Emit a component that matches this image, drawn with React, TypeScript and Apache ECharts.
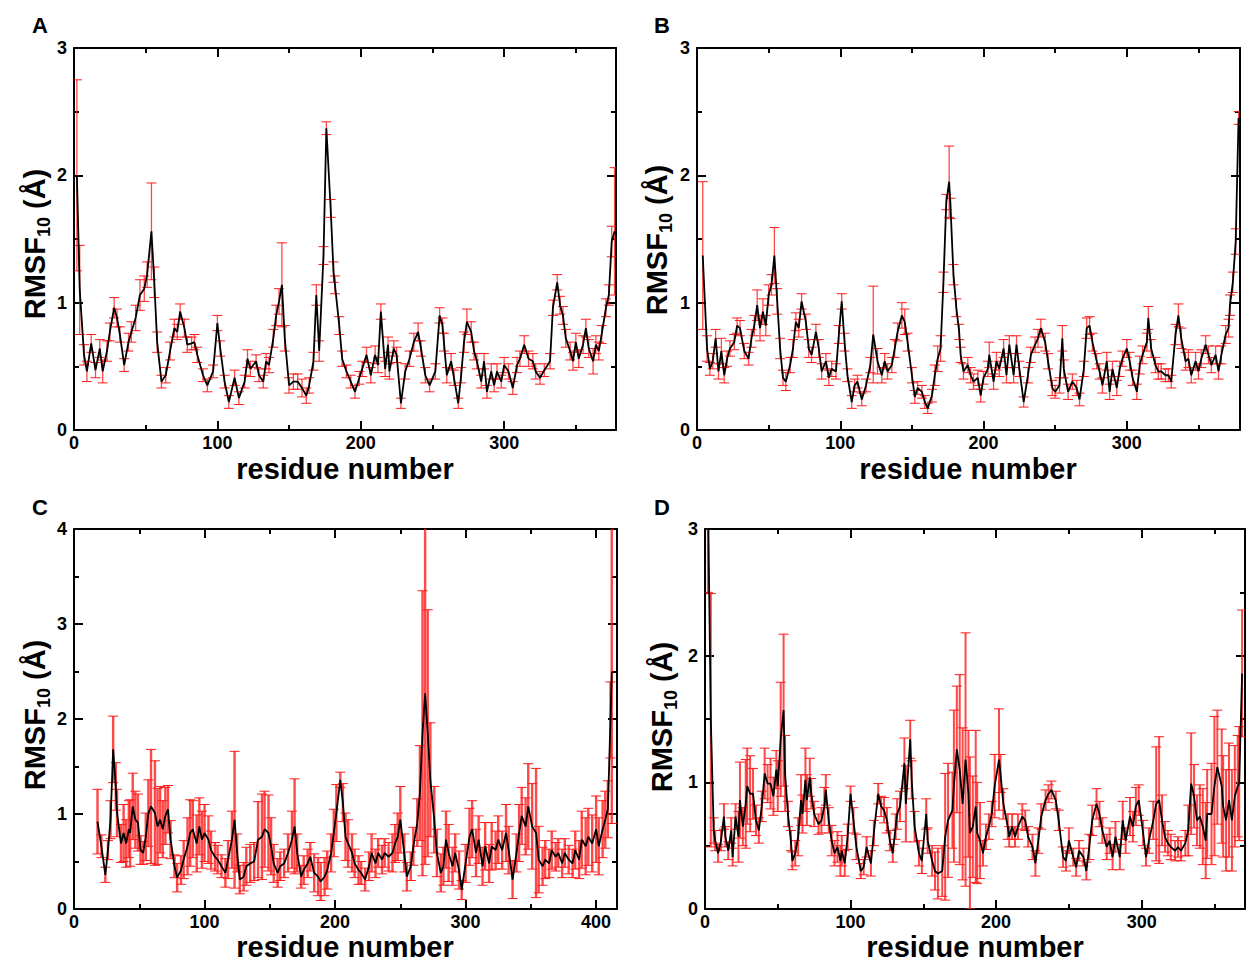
import React, { useEffect, useRef } from 'react';
import * as echarts from 'echarts';

// [residue, RMSF10 (Å), error half-width]
const panelA: number[][] = [
  [2,2.0,0.75],[4,1.1,0.35],[7,0.59,0.08],[9,0.46,0.08],[12,0.68,0.07],[15,0.47,0.06],[18,0.64,0.07],[20,0.46,0.09],
  [23,0.62,0.08],[25,0.77,0.07],[28,0.96,0.08],[30,0.88,0.07],[32,0.75,0.06],[35,0.51,0.05],[38,0.69,0.07],[40,0.77,0.08],
  [43,0.88,0.1],[46,1.06,0.12],[49,1.11,0.1],[51,1.22,0.1],[54,1.56,0.38],[56,1.16,0.12],[58,0.69,0.08],[61,0.38,0.05],
  [64,0.43,0.06],[67,0.62,0.07],[70,0.80,0.07],[72,0.77,0.06],[74,0.93,0.06],[77,0.80,0.07],[79,0.67,0.06],[82,0.68,0.05],
  [84,0.69,0.06],[86,0.59,0.06],[90,0.43,0.05],[93,0.35,0.05],[97,0.46,0.05],[100,0.84,0.06],[102,0.64,0.06],[105,0.38,0.05],
  [108,0.22,0.05],[112,0.41,0.06],[115,0.25,0.05],[119,0.38,0.05],[121,0.56,0.07],[123,0.48,0.06],[127,0.54,0.05],[129,0.43,0.05],
  [132,0.38,0.05],[134,0.54,0.06],[136,0.51,0.06],[139,0.72,0.07],[141,0.90,0.08],[143,1.01,0.1],[145,1.14,0.33],[147,0.72,0.1],
  [150,0.35,0.06],[153,0.38,0.06],[156,0.38,0.06],[159,0.33,0.07],[162,0.27,0.06],[164,0.35,0.06],[167,0.54,0.07],[169,1.06,0.08],
  [171,0.62,0.08],[174,1.37,0.07],[176,2.37,0.05],[179,1.74,0.07],[181,1.24,0.08],[182,1.14,0.07],[185,0.82,0.07],[187,0.56,0.06],
  [190,0.46,0.05],[193,0.38,0.05],[196,0.30,0.05],[199,0.41,0.05],[201,0.48,0.06],[204,0.59,0.06],[207,0.43,0.06],[210,0.59,0.07],
  [212,0.51,0.06],[214,0.93,0.06],[217,0.48,0.06],[219,0.67,0.06],[220,0.46,0.06],[223,0.64,0.06],[225,0.59,0.06],[228,0.21,0.04],
  [231,0.46,0.06],[234,0.56,0.06],[237,0.69,0.07],[240,0.77,0.07],[242,0.64,0.06],[245,0.43,0.06],[248,0.35,0.05],[252,0.46,0.06],
  [255,0.90,0.06],[257,0.82,0.06],[258,0.69,0.07],[260,0.43,0.06],[263,0.54,0.06],[265,0.41,0.06],[268,0.21,0.04],[270,0.43,0.06],
  [272,0.69,0.08],[274,0.85,0.1],[277,0.77,0.08],[279,0.62,0.07],[281,0.54,0.06],[284,0.38,0.05],[286,0.54,0.06],[288,0.30,0.05],
  [291,0.46,0.06],[293,0.35,0.05],[295,0.46,0.06],[298,0.38,0.05],[300,0.51,0.06],[303,0.46,0.06],[306,0.33,0.05],[309,0.51,0.06],
  [311,0.56,0.06],[314,0.67,0.07],[317,0.56,0.06],[320,0.54,0.06],[322,0.46,0.06],[325,0.41,0.05],[328,0.47,0.05],[332,0.54,0.06],
  [334,0.96,0.06],[337,1.16,0.06],[339,0.98,0.07],[341,0.90,0.07],[343,0.72,0.07],[346,0.62,0.07],[348,0.54,0.07],[350,0.69,0.07],
  [352,0.56,0.07],[355,0.67,0.07],[357,0.80,0.07],[359,0.64,0.07],[362,0.54,0.1],[364,0.67,0.07],[366,0.62,0.07],[368,0.75,0.07],
  [371,0.96,0.07],[373,1.06,0.08],[375,1.48,0.12],[377,1.56,0.5],
];

const panelB: number[][] = [
  [4,1.37,0.58],[7,0.64,0.1],[9,0.48,0.05],[11,0.54,0.06],[13,0.72,0.07],[15,0.46,0.06],[17,0.62,0.1],[19,0.43,0.06],
  [21,0.56,0.06],[23,0.64,0.06],[26,0.69,0.06],[28,0.82,0.06],[30,0.80,0.06],[33,0.62,0.06],[36,0.56,0.05],[38,0.72,0.07],
  [40,0.82,0.08],[42,0.98,0.12],[44,0.80,0.1],[46,0.93,0.1],[48,0.82,0.08],[50,1.06,0.08],[52,1.14,0.08],[54,1.37,0.22],
  [56,1.01,0.1],[58,0.64,0.08],[60,0.41,0.06],[62,0.38,0.07],[65,0.51,0.06],[67,0.64,0.07],[69,0.85,0.07],[71,0.80,0.07],
  [73,1.01,0.06],[76,0.85,0.06],[78,0.64,0.07],[80,0.59,0.06],[83,0.77,0.06],[85,0.64,0.07],[87,0.46,0.06],[90,0.54,0.06],
  [92,0.41,0.06],[94,0.48,0.06],[97,0.46,0.06],[99,0.75,0.07],[101,1.01,0.06],[103,0.69,0.07],[105,0.43,0.05],[108,0.22,0.05],
  [110,0.35,0.05],[112,0.38,0.05],[115,0.24,0.05],[118,0.35,0.05],[121,0.51,0.06],[123,0.75,0.38],[126,0.54,0.1],[129,0.43,0.06],
  [131,0.54,0.06],[133,0.46,0.06],[136,0.51,0.06],[138,0.64,0.07],[140,0.77,0.07],[143,0.90,0.1],[145,0.85,0.1],[147,0.69,0.07],
  [150,0.43,0.06],[152,0.26,0.05],[154,0.33,0.05],[157,0.30,0.05],[159,0.22,0.05],[161,0.17,0.04],[164,0.27,0.05],[166,0.43,0.08],
  [168,0.56,0.1],[170,0.64,0.1],[172,1.16,0.08],[174,1.79,0.06],[176,1.95,0.28],[177,1.74,0.08],[179,1.22,0.08],[181,0.96,0.07],
  [183,0.77,0.06],[184,0.59,0.06],[186,0.46,0.06],[189,0.51,0.06],[191,0.43,0.06],[193,0.38,0.06],[196,0.41,0.06],[198,0.27,0.05],
  [200,0.41,0.05],[203,0.48,0.06],[204,0.59,0.1],[207,0.38,0.06],[209,0.54,0.07],[211,0.48,0.06],[214,0.64,0.07],[216,0.43,0.06],
  [218,0.67,0.07],[221,0.43,0.06],[223,0.67,0.07],[225,0.48,0.06],[228,0.22,0.04],[231,0.43,0.06],[233,0.59,0.06],[236,0.67,0.06],
  [238,0.72,0.07],[240,0.80,0.07],[243,0.69,0.07],[245,0.54,0.06],[248,0.33,0.06],[250,0.30,0.05],[253,0.35,0.06],[255,0.72,0.1],
  [256,0.48,0.07],[259,0.30,0.06],[262,0.38,0.06],[265,0.33,0.06],[267,0.24,0.05],[270,0.48,0.06],[272,0.80,0.08],[274,0.82,0.07],
  [276,0.69,0.07],[279,0.54,0.06],[281,0.46,0.06],[283,0.35,0.06],[286,0.54,0.07],[288,0.30,0.06],[290,0.48,0.06],[293,0.33,0.06],
  [295,0.48,0.06],[297,0.56,0.06],[300,0.64,0.07],[302,0.54,0.07],[304,0.41,0.06],[307,0.30,0.06],[309,0.51,0.07],[311,0.59,0.07],
  [314,0.69,0.07],[315,0.88,0.09],[317,0.64,0.07],[320,0.51,0.06],[322,0.46,0.06],[324,0.46,0.06],[327,0.43,0.05],[329,0.43,0.05],
  [331,0.38,0.05],[334,0.75,0.08],[336,0.90,0.09],[338,0.72,0.08],[341,0.54,0.07],[343,0.56,0.07],[345,0.43,0.06],[348,0.54,0.07],
  [350,0.46,0.06],[352,0.56,0.07],[355,0.67,0.07],[357,0.59,0.07],[359,0.51,0.06],[362,0.59,0.07],[364,0.46,0.06],[366,0.59,0.07],
  [369,0.75,0.07],[371,0.80,0.07],[372,0.98,0.08],[374,1.16,0.08],[376,1.48,0.1],[378,2.45,0.05],
];

const panelC: number[][] = [
  [18,0.92,0.34],[21,0.66,0.12],[24,0.36,0.08],[26,0.62,0.1],[28,0.94,0.2],[30,1.68,0.35],[32,1.29,0.25],[33,1.01,0.25],
  [36,0.69,0.2],[38,0.80,0.3],[40,0.69,0.25],[42,0.84,0.3],[43,0.80,0.35],[45,1.08,0.35],[47,0.94,0.3],[49,0.91,0.3],
  [51,0.62,0.15],[53,0.59,0.12],[55,0.76,0.25],[57,1.01,0.35],[59,1.08,0.6],[62,1.01,0.55],[64,0.87,0.4],[66,0.94,0.35],
  [68,0.84,0.3],[70,0.98,0.3],[72,1.05,0.25],[74,0.73,0.2],[77,0.45,0.12],[79,0.33,0.15],[82,0.41,0.15],[84,0.52,0.2],
  [87,0.66,0.3],[89,0.80,0.35],[91,0.84,0.3],[94,0.69,0.3],[96,0.87,0.3],[98,0.73,0.3],[100,0.80,0.3],[103,0.73,0.25],
  [105,0.62,0.2],[108,0.55,0.15],[110,0.52,0.15],[113,0.45,0.12],[116,0.38,0.15],[118,0.52,0.2],[121,0.73,0.3],[123,0.94,0.72],
  [125,0.59,0.2],[127,0.31,0.15],[130,0.34,0.15],[132,0.45,0.2],[135,0.48,0.2],[138,0.50,0.2],[141,0.73,0.4],[144,0.76,0.45],
  [146,0.84,0.4],[149,0.80,0.4],[151,0.66,0.3],[153,0.48,0.2],[156,0.38,0.15],[158,0.45,0.15],[161,0.48,0.15],[164,0.59,0.2],
  [167,0.73,0.3],[169,0.87,0.5],[171,0.59,0.2],[174,0.34,0.12],[176,0.41,0.15],[179,0.48,0.15],[181,0.55,0.15],[184,0.38,0.2],
  [187,0.34,0.2],[189,0.29,0.2],[192,0.34,0.2],[194,0.41,0.2],[197,0.59,0.2],[199,0.80,0.25],[201,1.01,0.3],[204,1.36,0.08],
  [206,1.12,0.2],[208,0.76,0.25],[210,0.69,0.25],[213,0.59,0.2],[215,0.48,0.15],[218,0.41,0.15],[220,0.38,0.12],[223,0.31,0.12],
  [226,0.45,0.15],[228,0.59,0.2],[231,0.48,0.15],[233,0.59,0.15],[236,0.52,0.15],[238,0.59,0.15],[241,0.55,0.15],[244,0.59,0.2],
  [246,0.69,0.2],[248,0.76,0.25],[250,0.94,0.35],[253,0.59,0.2],[255,0.34,0.15],[258,0.45,0.15],[260,0.66,0.2],[263,0.91,0.25],
  [265,1.22,0.5],[267,1.85,1.5],[269,2.27,1.8],[271,1.85,1.3],[273,1.36,0.6],[276,0.94,0.35],[278,0.59,0.25],[281,0.38,0.2],
  [283,0.45,0.2],[285,0.73,0.3],[287,0.59,0.3],[290,0.45,0.2],[292,0.59,0.2],[295,0.41,0.2],[297,0.20,0.1],[300,0.48,0.2],
  [303,0.76,0.3],[305,0.84,0.3],[308,0.59,0.25],[310,0.73,0.25],[313,0.45,0.2],[315,0.66,0.25],[318,0.48,0.2],[320,0.66,0.25],
  [323,0.62,0.2],[325,0.73,0.25],[328,0.62,0.2],[331,0.80,0.3],[333,0.62,0.25],[336,0.31,0.2],[339,0.59,0.2],[341,0.80,0.3],
  [343,0.98,0.3],[346,0.87,0.3],[348,1.08,0.45],[351,0.87,0.45],[354,0.80,0.68],[356,0.52,0.35],[359,0.45,0.2],[361,0.52,0.2],
  [364,0.48,0.15],[366,0.62,0.2],[369,0.55,0.15],[371,0.59,0.15],[374,0.48,0.15],[376,0.59,0.15],[379,0.52,0.15],[382,0.48,0.15],
  [384,0.62,0.2],[387,0.52,0.2],[389,0.73,0.3],[392,0.66,0.3],[394,0.76,0.3],[397,0.69,0.3],[400,0.84,0.35],[402,0.66,0.3],
  [405,0.84,0.3],[407,0.94,0.3],[409,1.05,0.3],[411,1.99,0.4],[412,2.5,1.6],
];

const panelD: number[][] = [
  [2,3.3,0.8],[4,1.49,1.0],[6,0.62,0.1],[7,0.54,0.08],[9,0.44,0.07],[11,0.54,0.08],[13,0.73,0.1],[14,0.57,0.08],
  [16,0.46,0.07],[18,0.62,0.1],[19,0.41,0.07],[21,0.73,0.1],[23,0.57,0.2],[24,0.86,0.3],[26,0.65,0.15],[28,0.83,0.35],
  [29,0.97,0.3],[31,0.91,0.3],[33,0.91,0.2],[35,0.70,0.12],[37,0.62,0.1],[39,0.81,0.12],[41,1.07,0.2],[43,0.99,0.15],
  [45,0.99,0.2],[47,0.89,0.15],[49,1.10,0.15],[50,0.97,0.2],[52,1.34,0.45],[54,1.57,0.6],[55,1.07,0.3],[57,0.75,0.1],
  [59,0.54,0.08],[60,0.38,0.07],[62,0.44,0.1],[64,0.57,0.15],[66,0.86,0.2],[67,0.75,0.15],[69,1.02,0.25],[70,0.86,0.2],
  [72,1.04,0.15],[73,0.91,0.12],[75,0.75,0.1],[78,0.67,0.08],[80,0.70,0.1],[82,0.81,0.15],[83,0.94,0.12],[85,0.70,0.1],
  [87,0.54,0.12],[89,0.44,0.1],[91,0.49,0.12],[93,0.38,0.12],[94,0.46,0.12],[96,0.36,0.1],[98,0.57,0.1],[100,0.91,0.06],
  [102,0.70,0.1],[104,0.49,0.1],[107,0.30,0.06],[109,0.33,0.06],[111,0.49,0.08],[114,0.36,0.1],[116,0.60,0.1],[119,0.91,0.08],
  [121,0.81,0.08],[123,0.78,0.1],[125,0.70,0.1],[127,0.54,0.08],[129,0.44,0.07],[131,0.65,0.1],[132,0.75,0.12],[134,0.81,0.12],
  [137,1.15,0.2],[138,0.83,0.3],[141,1.34,0.15],[142,1.02,0.15],[144,0.65,0.12],[147,0.44,0.1],[149,0.38,0.1],[152,0.75,0.12],
  [153,0.54,0.1],[156,0.38,0.12],[158,0.30,0.15],[160,0.28,0.2],[163,0.30,0.2],[165,0.57,0.5],[167,0.70,0.45],[170,0.78,0.3],
  [171,0.97,0.6],[173,1.26,0.5],[175,1.10,0.75],[177,0.83,0.6],[179,1.18,1.0],[181,0.91,0.5],[182,0.60,0.6],[184,0.65,0.4],
  [186,0.81,0.6],[187,0.60,0.4],[189,0.54,0.3],[191,0.44,0.1],[193,0.57,0.1],[195,0.65,0.1],[197,0.75,0.1],[199,0.97,0.25],
  [202,1.18,0.4],[203,1.07,0.15],[205,0.83,0.12],[208,0.65,0.1],[209,0.57,0.08],[211,0.65,0.1],[213,0.57,0.08],[215,0.65,0.1],
  [218,0.73,0.1],[220,0.70,0.08],[222,0.57,0.08],[225,0.49,0.1],[227,0.36,0.1],[229,0.54,0.1],[231,0.73,0.1],[234,0.86,0.08],
  [236,0.91,0.07],[238,0.94,0.07],[241,0.86,0.07],[243,0.70,0.08],[246,0.41,0.08],[248,0.38,0.08],[250,0.54,0.1],[253,0.41,0.07],
  [255,0.33,0.07],[257,0.46,0.08],[260,0.41,0.07],[262,0.30,0.07],[264,0.49,0.1],[266,0.70,0.12],[269,0.83,0.12],[271,0.75,0.1],
  [273,0.62,0.1],[276,0.49,0.1],[278,0.54,0.1],[280,0.41,0.1],[282,0.57,0.12],[285,0.41,0.1],[287,0.70,0.15],[289,0.54,0.1],
  [292,0.73,0.15],[294,0.65,0.12],[296,0.81,0.15],[298,0.86,0.12],[301,0.60,0.1],[303,0.41,0.07],[305,0.54,0.1],[308,0.70,0.15],
  [310,0.83,0.45],[312,0.86,0.5],[314,0.70,0.2],[316,0.57,0.12],[318,0.52,0.1],[320,0.49,0.1],[323,0.46,0.08],[325,0.49,0.08],
  [327,0.46,0.08],[330,0.52,0.1],[332,0.62,0.2],[334,0.99,0.4],[336,0.89,0.25],[338,0.70,0.2],[340,0.73,0.25],[342,0.65,0.3],
  [344,0.54,0.3],[345,0.75,0.35],[348,0.75,0.4],[350,0.97,0.55],[352,1.12,0.45],[355,0.97,0.45],[356,0.81,0.4],[358,0.70,0.4],
  [360,0.86,0.45],[362,0.70,0.4],[364,0.89,0.4],[366,0.97,0.4],[367,0.99,0.45],[369,1.86,0.5],
];

const panelLetters = ['A', 'B', 'C', 'D'];
const xMajorA = [0, 100, 200, 300];
const xMinorA = [50, 150, 250, 350];
const xMajorC = [0, 100, 200, 300, 400];
const xMinorC = [50, 150, 250, 350];
const xAxisTitle = 'residue number';

const FONT = '"Liberation Sans", Arial, Helvetica, sans-serif';
const RED = '#ff1a1a';

const panels = [
  { data: panelA, box: { left: 74, top: 48, width: 542, height: 382 }, xMax: 378, yMax: 3, xMajor: xMajorA, xMinor: xMinorA,
    letter: [40, 25], xt: [345, 469], yt: [35, 244], barW: 1.3 },
  { data: panelB, box: { left: 697, top: 48, width: 543, height: 382 }, xMax: 379, yMax: 3, xMajor: xMajorA, xMinor: xMinorA,
    letter: [662, 25], xt: [968, 469], yt: [657, 240], barW: 1.3 },
  { data: panelC, box: { left: 74, top: 529, width: 543, height: 380 }, xMax: 416, yMax: 4, xMajor: xMajorC, xMinor: xMinorC,
    letter: [40, 507], xt: [345, 947], yt: [35, 715], barW: 2.4 },
  { data: panelD, box: { left: 705, top: 529, width: 540, height: 380 }, xMax: 371, yMax: 3, xMajor: xMajorA, xMinor: xMinorA,
    letter: [662, 507], xt: [975, 947], yt: [662, 717], barW: 2.0 },
];

function buildOption() {
  const grid: any[] = [];
  const xAxis: any[] = [];
  const yAxis: any[] = [];
  const series: any[] = [];
  const graphic: any[] = [];
  const tickLine = { color: '#000', width: 2 };
  const label = { color: '#000', fontSize: 18, fontWeight: 'bold', fontFamily: FONT };

  panels.forEach((p, i) => {
    grid.push({ ...p.box, containLabel: false });
    const xb = { type: 'value', gridIndex: i, min: 0, max: p.xMax, splitLine: { show: false }, axisPointer: { show: false } };
    xAxis.push({ ...xb, position: 'bottom',
      axisLine: { show: true, onZero: false, lineStyle: tickLine },
      axisTick: { show: true, inside: true, length: 9, lineStyle: tickLine, customValues: p.xMajor },
      axisLabel: { show: true, customValues: p.xMajor, margin: 4, ...label } });
    xAxis.push({ ...xb, position: 'bottom',
      axisLine: { show: false, onZero: false },
      axisTick: { show: true, inside: true, length: 5, lineStyle: tickLine, customValues: p.xMinor },
      axisLabel: { show: false } });
    xAxis.push({ ...xb, position: 'top',
      axisLine: { show: true, onZero: false, lineStyle: tickLine },
      axisTick: { show: true, inside: true, length: 9, lineStyle: tickLine, customValues: p.xMajor },
      axisLabel: { show: false } });
    xAxis.push({ ...xb, position: 'top',
      axisLine: { show: false, onZero: false },
      axisTick: { show: true, inside: true, length: 5, lineStyle: tickLine, customValues: p.xMinor },
      axisLabel: { show: false } });

    const yb = { type: 'value', gridIndex: i, min: 0, max: p.yMax, interval: 1, splitLine: { show: false },
      minorSplitLine: { show: false }, axisPointer: { show: false },
      axisTick: { show: true, inside: true, length: 9, lineStyle: tickLine },
      minorTick: { show: true, splitNumber: 2, length: 5, lineStyle: tickLine } };
    yAxis.push({ ...yb, position: 'left', axisLine: { show: true, onZero: false, lineStyle: tickLine },
      axisLabel: { show: true, margin: 7, ...label } });
    yAxis.push({ ...yb, position: 'right', axisLine: { show: true, onZero: false, lineStyle: tickLine },
      axisLabel: { show: false } });

    const yMax = p.yMax;
    const barW = p.barW;
    series.push({
      type: 'custom', xAxisIndex: 4 * i, yAxisIndex: 2 * i, data: p.data, clip: true, z: 1,
      encode: { x: 0, y: 1 },
      renderItem: (_params: any, api: any) => {
        const x = api.value(0), y = api.value(1), e = api.value(2);
        const lo = Math.max(y - e, 0), hi = Math.min(y + e, yMax);
        const p1 = api.coord([x, lo]);
        const p2 = api.coord([x, hi]);
        const cap = { stroke: RED, lineWidth: 1 };
        const children: any[] = [
          { type: 'line', shape: { x1: p1[0], y1: p1[1], x2: p2[0], y2: p2[1] },
            style: { stroke: RED, lineWidth: barW, opacity: 0.8 } },
        ];
        if (y - e >= 0) children.push({ type: 'line', shape: { x1: p1[0] - 5, y1: p1[1], x2: p1[0] + 5, y2: p1[1] }, style: cap });
        if (y + e <= yMax) children.push({ type: 'line', shape: { x1: p2[0] - 5, y1: p2[1], x2: p2[0] + 5, y2: p2[1] }, style: cap });
        return { type: 'group', children };
      },
    });
    series.push({
      type: 'line', xAxisIndex: 4 * i, yAxisIndex: 2 * i, z: 3, symbol: 'none', showSymbol: false,
      data: p.data.map((d) => [d[0], d[1]]), lineStyle: { color: '#000', width: 1.8 }, clip: true,
    });

    graphic.push({ type: 'text', x: p.letter[0], y: p.letter[1], style: { text: panelLetters[i], fill: '#000',
      font: `bold 22px ${FONT}`, align: 'center', verticalAlign: 'middle' } });
    graphic.push({ type: 'text', x: p.xt[0], y: p.xt[1], style: { text: xAxisTitle, fill: '#000',
      font: `bold 29px ${FONT}`, align: 'center', verticalAlign: 'middle' } });
    graphic.push({ type: 'text', x: p.yt[0], y: p.yt[1], rotation: Math.PI / 2, style: {
      text: '{b|RMSF}{s|10}{b| (Å)}', align: 'center', verticalAlign: 'middle', fill: '#000',
      rich: {
        b: { fontSize: 29, fontWeight: 'bold', fontFamily: FONT, lineHeight: 36, verticalAlign: 'middle', fill: '#000' },
        s: { fontSize: 18, fontWeight: 'bold', fontFamily: FONT, lineHeight: 18, verticalAlign: 'bottom', fill: '#000' },
      } } });
  });

  return { animation: false, backgroundColor: '#fff', grid, xAxis, yAxis, series, graphic };
}

export default function App() {
  const ref = useRef<HTMLDivElement>(null);
  useEffect(() => {
    const chart = echarts.init(ref.current!, null, { renderer: 'svg' });
    chart.setOption(buildOption() as any);
    return () => chart.dispose();
  }, []);
  return <div ref={ref} style={{ position: 'fixed', left: 0, top: 0, width: 1248, height: 962, background: '#fff' }} />;
}
